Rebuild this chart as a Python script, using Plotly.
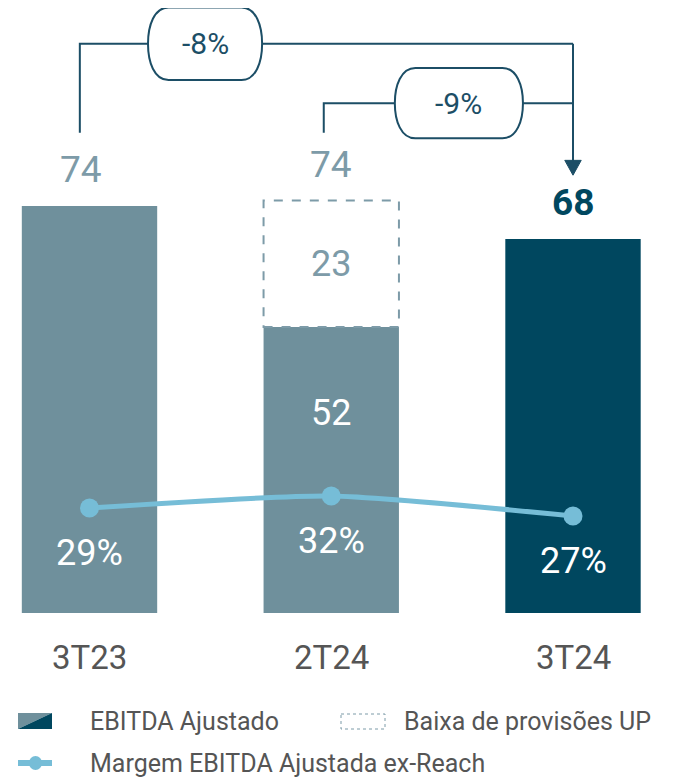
import plotly.graph_objects as go

# data
categories = ["3T23", "2T24", "3T24"]
ebitda_ajustado = [74, 52, 68]
baixa_provisoes = [0, 23, 0]
totais = [74, 74, 68]
margem = [29, 32, 27]
variacoes = ["-8%", "-9%"]

GRAY = "#6F909C"
DARK = "#00475F"
LIGHT = "#7D9BA8"
LINE = "#76BDD7"
ARROW = "#1C4E66"
TEXT = "#555555"
FONT = "Roboto"

# page body has an 8px margin, so the figure is drawn 8px smaller
OFF = 8
W, H = 679 - OFF, 777 - OFF
BASE = 613 - OFF
BOTTOM = H - BASE


def py(p):
    '''reference pixel y -> paper y'''
    return (BASE - (p - OFF)) / BASE


def px(p):
    return (p - OFF) / W


bar_colors = [GRAY, GRAY, DARK]
bar_width = 0.56

fig = go.Figure()
fig.add_trace(go.Bar(
    x=list(range(len(categories))), y=ebitda_ajustado,
    marker=dict(color=bar_colors, line=dict(width=0)),
    width=bar_width, showlegend=False, hoverinfo="skip",
))
fig.add_trace(go.Scatter(
    x=list(range(len(categories))), y=margem, yaxis="y2",
    mode="lines+markers", line=dict(color=LINE, width=5, shape="spline", smoothing=0.6),
    marker=dict(size=19, color=LINE), showlegend=False, hoverinfo="skip",
))

shapes = []
annotations = []

# dashed box for provisões
for i, (b, p) in enumerate(zip(ebitda_ajustado, baixa_provisoes)):
    if p:
        shapes.append(dict(type="rect", xref="x", yref="y",
                           x0=i - bar_width / 2, x1=i + bar_width / 2, y0=b, y1=b + p,
                           line=dict(color=LIGHT, width=2, dash="dash"), fillcolor="rgba(0,0,0,0)",
                           layer="above"))
        annotations.append(dict(x=i, y=b + p / 2, xref="x", yref="y", text=str(p), showarrow=False,
                                font=dict(family=FONT, size=36, color=LIGHT)))
        annotations.append(dict(x=i, y=b, xref="x", yref="y", text=str(b), showarrow=False, yshift=-86,
                                font=dict(family=FONT, size=36, color="white")))

# totals (first one sits on the connector line)
for i, t in enumerate(totais):
    last = i == len(totais) - 1
    top = ebitda_ajustado[i] + baixa_provisoes[i]
    annotations.append(dict(
        x=i, y=top, xref="x", yref="y", yanchor="bottom", showarrow=False, yshift=13,
        xshift=-9 if i == 0 else 0,
        text="<b>%d</b>" % t if last else str(t),
        font=dict(family=FONT, size=37, color=DARK if last else LIGHT)))

# margin labels
for i, m in enumerate(margem):
    annotations.append(dict(x=i, y=m, xref="x", yref="y2", text="%d%%" % m, showarrow=False,
                            yshift=-45, font=dict(family=FONT, size=36, color="white")))

# category labels
for i, c in enumerate(categories):
    annotations.append(dict(x=i, y=py(657), xref="x", yref="paper", yanchor="middle", text=c,
                            showarrow=False, font=dict(family=FONT, size=33, color=TEXT)))


# variation connectors
def pill(x0, x1, y0, y1, curve):
    ym = (y0 + y1) / 2
    return ("M %f,%f L %f,%f C %f,%f %f,%f %f,%f C %f,%f %f,%f %f,%f "
            "L %f,%f C %f,%f %f,%f %f,%f C %f,%f %f,%f %f,%f Z" % (
                x0 + curve, y1, x1 - curve, y1,
                x1 - curve * 0.3, y1, x1, y1 - (y1 - ym) * 0.5, x1, ym,
                x1, y0 + (ym - y0) * 0.5, x1 - curve * 0.3, y0, x1 - curve, y0,
                x0 + curve, y0,
                x0 + curve * 0.3, y0, x0, y0 + (ym - y0) * 0.5, x0, ym,
                x0, y1 - (y1 - ym) * 0.5, x0 + curve * 0.3, y1, x0 + curve, y1))


x_end = 2
conn = [
    # (start x, start bottom y, horizontal y, pill x0, pill x1, pill half-height)
    (-0.04, 87.3, 103.5, 0.242, 0.714, 6.6),
    (0.969, 87.3, 92.7, 1.263, 1.793, 6.4),
]
for (xs, yb, yh, p0, p1, hh), label in zip(conn, variacoes):
    shapes.append(dict(type="path", xref="x", yref="y",
                       path="M %f,%f L %f,%f L %f,%f" % (xs, yb, xs, yh, x_end, yh),
                       line=dict(color=ARROW, width=2)))
    shapes.append(dict(type="path", xref="x", yref="y", path=pill(p0, p1, yh - hh, yh + hh, 0.085),
                       line=dict(color=ARROW, width=2), fillcolor="white"))
    annotations.append(dict(x=(p0 + p1) / 2, y=yh, xref="x", yref="y", text=label, showarrow=False,
                            font=dict(family=FONT, size=30, color=ARROW)))

# arrow to 3T24
shapes.append(dict(type="path", xref="x", yref="y",
                   path="M %f,%f L %f,%f" % (x_end, 103.5, x_end, 80.5),
                   line=dict(color=ARROW, width=2)))
shapes.append(dict(type="path", xref="x", yref="y",
                   path="M %f,%f L %f,%f L %f,%f Z" % (x_end - 0.034, 82.3, x_end + 0.034, 82.3, x_end, 79.6),
                   line=dict(color=ARROW, width=1), fillcolor=ARROW))

# legend
shapes.append(dict(type="path", xref="paper", yref="paper",
                   path="M %f,%f L %f,%f L %f,%f Z" % (px(18), py(713), px(52), py(713), px(18), py(729)),
                   line=dict(width=0), fillcolor=GRAY))
shapes.append(dict(type="path", xref="paper", yref="paper",
                   path="M %f,%f L %f,%f L %f,%f Z" % (px(52), py(713), px(52), py(729), px(18), py(729)),
                   line=dict(width=0), fillcolor=DARK))
shapes.append(dict(type="rect", xref="paper", yref="paper",
                   x0=px(341), x1=px(385), y0=py(714), y1=py(729),
                   line=dict(color=LIGHT, width=1, dash="dot")))
shapes.append(dict(type="line", xref="paper", yref="paper",
                   x0=px(18), x1=px(52), y0=py(763), y1=py(763),
                   line=dict(color=LINE, width=6)))
shapes.append(dict(type="circle", xref="paper", yref="paper",
                   x0=px(29), x1=px(42), y0=py(756), y1=py(770),
                   line=dict(width=0), fillcolor=LINE))
for x, y, t in [(88, 721, "EBITDA Ajustado"), (402, 721, "Baixa de provisões UP"),
                (88, 763, "Margem EBITDA Ajustada ex-Reach")]:
    annotations.append(dict(x=px(x), y=py(y), xref="paper", yref="paper", xanchor="left",
                            yanchor="middle", text=t, showarrow=False,
                            font=dict(family=FONT, size=25, color=TEXT)))

fig.update_layout(
    width=W, height=H,
    margin=dict(l=0, r=0, t=0, b=BOTTOM),
    paper_bgcolor="white", plot_bgcolor="white",
    xaxis=dict(range=[-81.5 / 241.75, (W - 81.5) / 241.75], visible=False),
    yaxis=dict(range=[0, BASE / 5.5], visible=False),
    yaxis2=dict(range=[29 - (BASE - 500) / 4, 29 + 500 / 4], overlaying="y", visible=False),
    shapes=shapes, annotations=annotations, showlegend=False,
)

fig.write_html("out.html")
